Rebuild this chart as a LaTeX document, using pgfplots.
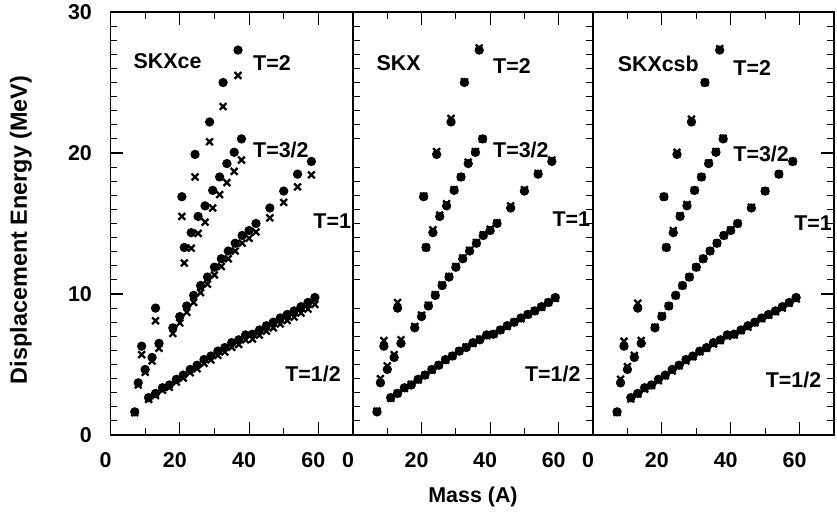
\documentclass[border=0pt]{standalone}
\usepackage{pgfplots}
\pgfplotsset{compat=1.18}
\usepackage{pgfplotstable}
\usepackage{fontspec}
\setmainfont{Liberation Sans}
\newcommand\bigf{\fontsize{21.5}{26}\selectfont\bfseries}

% experiment (dots), same in all panels
\pgfplotstableread{
A E
7 1.64
11 2.65
13 2.95
15 3.35
17 3.55
19 3.95
21 4.25
23 4.65
25 4.95
27 5.35
29 5.60
31 5.95
33 6.20
35 6.55
37 6.75
39 7.10
41 7.15
43 7.45
45 7.75
47 8.00
49 8.30
51 8.55
53 8.80
55 9.10
57 9.40
59 9.75
8 3.70
10 4.65
12 5.50
14 6.50
18 7.60
20 8.40
22 9.15
24 9.90
26 10.60
28 11.20
30 11.90
32 12.50
34 13.05
36 13.60
38 14.15
40 14.50
42 15.00
46 16.10
50 17.30
54 18.50
58 19.40
9 6.30
13 9.00
21.3 13.30
23.3 14.35
25.3 15.50
27.3 16.25
29.5 17.35
31.5 18.30
33.6 19.25
35.7 20.05
37.8 21.00
20.6 16.90
24.4 19.90
28.6 22.20
32.5 25.00
36.8 27.30
}\expdata

% SKXce (crosses)
\pgfplotstableread{
A E
7 1.58
11 2.52
13 2.80
15 3.18
17 3.38
19 3.76
21 4.04
23 4.42
25 4.70
27 5.08
29 5.33
31 5.65
33 5.89
35 6.22
37 6.42
39 6.75
41 6.80
43 7.08
45 7.36
47 7.60
49 7.88
51 8.12
53 8.36
55 8.65
57 8.93
59 9.26
8 3.55
10 4.45
12 5.25
14 6.15
18 7.20
20 7.95
22 8.70
24 9.40
26 10.10
28 10.70
30 11.35
32 11.95
34 12.50
36 13.05
38 13.60
40 13.95
42 14.40
46 15.40
50 16.50
54 17.60
58 18.45
9 5.70
13 8.10
21.3 12.20
23.3 13.25
25.3 14.30
27.3 15.10
29.5 16.10
31.5 17.05
33.6 17.90
35.7 18.70
37.8 19.50
20.6 15.50
24.4 18.30
28.6 20.80
32.5 23.30
36.8 25.50
}\ceData

% SKX (crosses)
\pgfplotstableread{
A E
7 1.70
11 2.60
13 2.95
15 3.30
17 3.60
19 3.90
21 4.25
23 4.60
25 4.95
27 5.30
29 5.60
31 5.95
33 6.25
35 6.50
37 6.80
39 7.05
41 7.15
43 7.45
45 7.70
47 8.00
49 8.25
51 8.55
53 8.80
55 9.05
57 9.40
59 9.70
8 4.00
10 4.90
12 5.70
14 6.75
18 7.70
20 8.50
22 9.20
24 9.95
26 10.65
28 11.25
30 11.95
32 12.55
34 13.10
36 13.65
38 14.20
40 14.60
42 15.05
46 16.25
50 17.40
54 18.55
58 19.50
9 6.70
13 9.40
21.3 13.30
23.3 14.55
25.3 15.60
27.3 16.40
29.5 17.40
31.5 18.30
33.6 19.35
35.7 20.10
37.8 21.00
20.6 16.95
24.4 20.10
28.6 22.45
32.5 25.05
36.8 27.45
}\skxData

% SKXcsb (crosses)
\pgfplotstableread{
A E
7 1.60
11 2.55
13 2.90
15 3.25
17 3.50
19 3.85
21 4.20
23 4.55
25 4.90
27 5.25
29 5.55
31 5.90
33 6.15
35 6.45
37 6.70
39 7.00
41 7.10
43 7.40
45 7.65
47 7.95
49 8.25
51 8.50
53 8.75
55 9.00
57 9.35
59 9.65
8 3.95
10 4.85
12 5.65
14 6.70
18 7.65
20 8.45
22 9.15
24 9.90
26 10.60
28 11.20
30 11.90
32 12.50
34 13.05
36 13.60
38 14.15
40 14.55
42 15.00
46 16.15
50 17.30
54 18.50
58 19.40
9 6.65
13 9.35
21.3 13.30
23.3 14.50
25.3 15.55
27.3 16.35
29.5 17.35
31.5 18.30
33.6 19.30
35.7 20.10
37.8 21.05
20.6 16.90
24.4 20.05
28.6 22.40
32.5 25.00
36.8 27.40
}\csbData

\tikzset{tl/.style={anchor=west, inner sep=0pt, font=\bigf},
         tk/.style={line width=1.1pt, black}}

% tick marks drawn along the frame
\newcommand\xtickmarks{%
  \pgfplotsinvokeforeach{20,40,60}{\draw[tk] (axis cs:##1,0) -- ++(0,13bp); \draw[tk] (axis cs:##1,30) -- ++(0,-13bp);}%
  \pgfplotsinvokeforeach{10,30,50}{\draw[tk] (axis cs:##1,0) -- ++(0,7bp); \draw[tk] (axis cs:##1,30) -- ++(0,-7bp);}}
\newcommand\ytickmarksleft{%
  \pgfplotsinvokeforeach{10,20}{\draw[tk] (axis cs:0,##1) -- ++(13bp,0);}%
  \pgfplotsinvokeforeach{1,2,3,4,5,6,7,8,9,11,12,13,14,15,16,17,18,19,21,22,23,24,25,26,27,28,29}{\draw[tk] (axis cs:0,##1) -- ++(7bp,0);}}
\newcommand\ytickmarksright{%
  \pgfplotsinvokeforeach{10,20}{\draw[tk] (axis cs:70,##1) -- ++(-13bp,0);}%
  \pgfplotsinvokeforeach{1,2,3,4,5,6,7,8,9,11,12,13,14,15,16,17,18,19,21,22,23,24,25,26,27,28,29}{\draw[tk] (axis cs:70,##1) -- ++(-7bp,0);}}

\begin{document}
\begin{tikzpicture}
\path[use as bounding box] (-110.5bp,-85bp) rectangle (726.5bp,435bp);
\pgfplotsset{
  panel/.style={
    scale only axis, height=423bp,
    xmin=0, xmax=70, ymin=0, ymax=30,
    clip=false,
    line width=1.3pt,
    xtick={0,20,40,60}, xticklabels={0,20,40,60}, minor xtick={10,30,50},
    ytick={0,10,20,30}, yticklabels={0,10,20,30},
    minor ytick={1,2,3,4,5,6,7,8,9,11,12,13,14,15,16,17,18,19,21,22,23,24,25,26,27,28,29},
    tick align=inside,
    major tick length=13bp, minor tick length=7bp,
    tick style={black, line width=1.1pt},
    tick label style={font=\bigf},
    label style={font=\bigf},
    xticklabel style={inner sep=0pt, anchor=north, yshift=-17bp, xshift=-5bp},
    yticklabel style={inner sep=0pt, anchor=east, xshift=-18bp},
  },
  expm/.style={only marks, mark=*, mark size=4.0pt, black},
  thm/.style={only marks, mark=x, mark size=4.8pt, black, line width=2.3pt},
}
% panel 1
\begin{axis}[panel, width=242.5bp, at={(0bp,0bp)}, anchor=south west,
  xtick pos=both, xticklabel pos=bottom, ytick pos=left,
  ylabel={Displacement Energy (MeV)},
  ylabel style={at={(axis description cs:-0.37,0.485)}, anchor=center, font=\fontsize{23.5}{26}\selectfont\bfseries}]
\xtickmarks
\ytickmarksleft
\addplot[expm] table[x=A,y=E]{\expdata};
\addplot[thm] table[x=A,y=E]{\ceData};
\node[tl] at (axis cs:6.5,26.5) {SKXce};
\node[tl] at (axis cs:41,26.4) {T=2};
\node[tl] at (axis cs:41,20.2) {T=3/2};
\node[tl] at (axis cs:58.4,15.2) {T=1};
\node[tl] at (axis cs:50.3,4.3) {T=1/2};
\end{axis}
% panel 2
\begin{axis}[panel, width=240bp, at={(242.5bp,0bp)}, anchor=south west,
  xtick pos=both, xticklabel pos=bottom,
  ymajorticks=false, yminorticks=false,
  xlabel={Mass (A)},
  xlabel style={at={(axis description cs:0.5,0)}, anchor=center, yshift=-62bp}]
\xtickmarks
\addplot[expm] table[x=A,y=E]{\expdata};
\addplot[thm] table[x=A,y=E]{\skxData};
\node[tl] at (axis cs:6.7,26.4) {SKX};
\node[tl] at (axis cs:40.7,26.2) {T=2};
\node[tl] at (axis cs:40.7,20.2) {T=3/2};
\node[tl] at (axis cs:58,15.3) {T=1};
\node[tl] at (axis cs:50,4.3) {T=1/2};
\end{axis}
% panel 3
\begin{axis}[panel, width=241bp, at={(482.5bp,0bp)}, anchor=south west,
  xtick pos=both, xticklabel pos=bottom,
  ytick pos=right, yticklabels={,,,}]
\xtickmarks
\ytickmarksright
\addplot[expm] table[x=A,y=E]{\expdata};
\addplot[thm] table[x=A,y=E]{\csbData};
\node[tl] at (axis cs:7,26.3) {SKXcsb};
\node[tl] at (axis cs:40.6,26.0) {T=2};
\node[tl] at (axis cs:40.6,19.9) {T=3/2};
\node[tl] at (axis cs:58.3,15.0) {T=1};
\node[tl] at (axis cs:50,3.9) {T=1/2};
\end{axis}
\end{tikzpicture}
\end{document}
